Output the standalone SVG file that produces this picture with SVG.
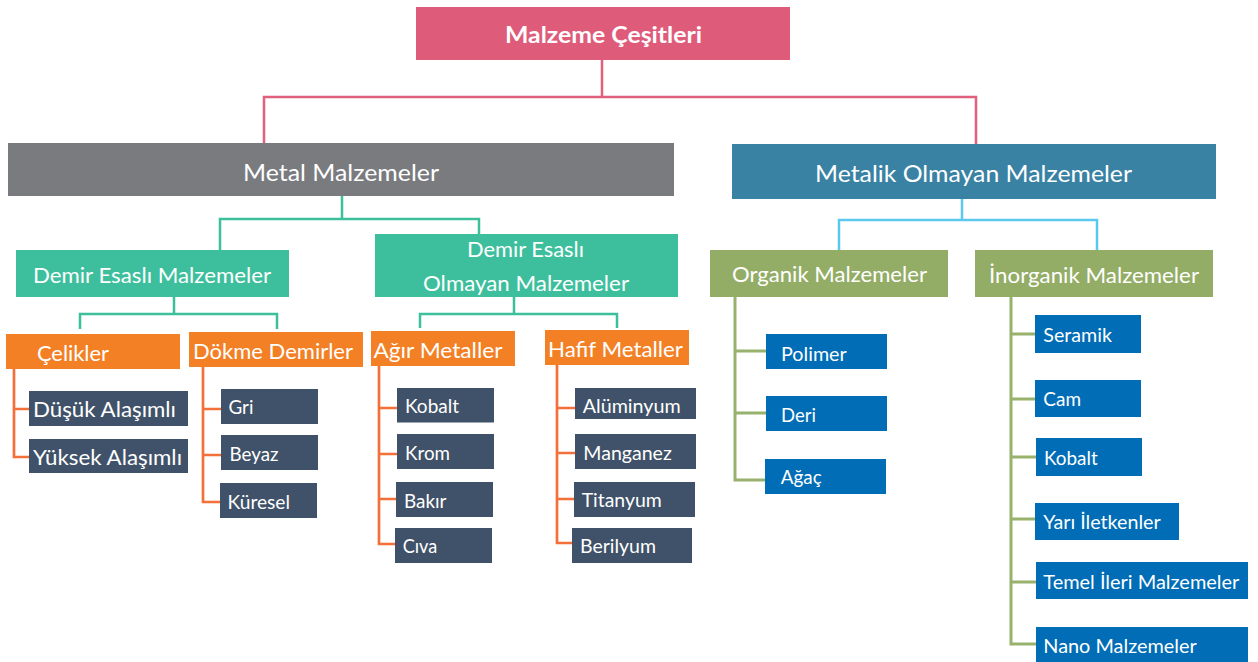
<svg xmlns="http://www.w3.org/2000/svg" width="1258" height="662" viewBox="0 0 1258 662">
<style>
text{font-family:Lato,"Open Sans","Noto Sans",sans-serif;fill:#ffffff;}
.t0{font-size:23.5px;font-weight:bold;}
.t1{font-size:23.5px;}
.t2{font-size:21px;}
.t3{font-size:22px;}
.t4{font-size:21px;}
.t5{font-size:19.5px;}
.pink{fill:#df5b7a;}
.gray{fill:#7a7b7f;}
.steel{fill:#3a82a3;}
.teal{fill:#3dbf9d;}
.olive{fill:#93ad66;}
.orange{fill:#f38025;}
.slate{fill:#3f5269;}
.blue{fill:#006db6;}
.c{fill:none;stroke-linejoin:miter;stroke-linecap:butt;}
.cp{stroke:#e0607e;stroke-width:2.5;}
.ct{stroke:#3cc09c;stroke-width:2.5;}
.co{stroke:#f3703a;stroke-width:2.7;}
.cb{stroke:#5bc8f0;stroke-width:2.5;}
.cg{stroke:#98b16c;stroke-width:3;}
</style>
<g id="connectors">
<path class="c cp" d="M602,60 V97 M264,143 V97 H976 V144"/>
<path class="c ct" d="M342,196 V219 M220,250 V219 H479 V234"/>
<path class="c ct" d="M174,297 V314 M80,329 V314 H277 V329"/>
<path class="c ct" d="M514,297 V314 M420,328 V314 H617 V328"/>
<path class="c co" d="M14,369 V457 H29 M14,409 H29"/>
<path class="c co" d="M203,367 V502 H220 M203,409 H221 M203,455 H221"/>
<path class="c co" d="M379,366 V544 H395 M379,408 H397 M379,454 H397 M379,499 H396"/>
<path class="c co" d="M557,365 V543 H572 M557,408 H575 M557,453 H575 M557,499 H574"/>
<path class="c cb" d="M962,199 V220 M839,250 V220 H1097 V250"/>
<path class="c cg" d="M735,297 V480 H765 M735,351 H766 M735,413 H766"/>
<path class="c cg" d="M1011,297 V644 H1036 M1011,334 H1035 M1011,399 H1035 M1011,457 H1036 M1011,519 H1035 M1011,582 H1036"/>
</g>
<g id="n-title"><rect class="pink" x="416" y="7" width="374" height="53"/><text class="t0" x="505" y="43" textLength="197" lengthAdjust="spacingAndGlyphs">Malzeme Çeşitleri</text></g>
<g id="n-metal"><rect class="gray" x="8" y="143" width="666" height="53"/><text class="t1" x="243" y="181" textLength="196" lengthAdjust="spacingAndGlyphs">Metal Malzemeler</text></g>
<g id="n-metalik"><rect class="steel" x="732" y="144" width="484" height="55"/><text class="t1" x="815" y="182" textLength="317" lengthAdjust="spacingAndGlyphs">Metalik Olmayan Malzemeler</text></g>
<g id="n-demir"><rect class="teal" x="16" y="250" width="273" height="47"/><text class="t2" x="33" y="283" textLength="238" lengthAdjust="spacingAndGlyphs">Demir Esaslı Malzemeler</text></g>
<g id="n-demirolmayan"><rect class="teal" x="375" y="234" width="303" height="63"/><text class="t2" x="467" y="257" textLength="117" lengthAdjust="spacingAndGlyphs">Demir Esaslı</text><text class="t2" x="423" y="290.5" textLength="206" lengthAdjust="spacingAndGlyphs">Olmayan Malzemeler</text></g>
<g id="n-organik"><rect class="olive" x="710" y="250" width="238" height="47"/><text class="t2" x="732" y="282" textLength="195" lengthAdjust="spacingAndGlyphs">Organik Malzemeler</text></g>
<g id="n-inorganik"><rect class="olive" x="975" y="250" width="238" height="47"/><text class="t2" x="989" y="282.5" textLength="210" lengthAdjust="spacingAndGlyphs">İnorganik Malzemeler</text></g>
<g id="n-celikler"><rect class="orange" x="6" y="334" width="174" height="35"/><text class="t3" x="37" y="360.5" textLength="72" lengthAdjust="spacingAndGlyphs">Çelikler</text></g>
<g id="n-dokme"><rect class="orange" x="189" y="332" width="174" height="35"/><text class="t3" x="193" y="359" textLength="160" lengthAdjust="spacingAndGlyphs">Dökme Demirler</text></g>
<g id="n-agir"><rect class="orange" x="371" y="331" width="144" height="35"/><text class="t3" x="373.5" y="357.5" textLength="129" lengthAdjust="spacingAndGlyphs">Ağır Metaller</text></g>
<g id="n-hafif"><rect class="orange" x="545" y="330" width="144" height="35"/><text class="t3" x="548" y="356.5" textLength="135" lengthAdjust="spacingAndGlyphs">Hafif Metaller</text></g>
<g id="n-dusuk"><rect class="slate" x="29" y="391" width="159" height="35"/><text class="t4" x="33" y="416.5" textLength="143" lengthAdjust="spacingAndGlyphs">Düşük Alaşımlı</text></g>
<g id="n-yuksek"><rect class="slate" x="29" y="439" width="159" height="34"/><text class="t4" x="33" y="465" textLength="149" lengthAdjust="spacingAndGlyphs">Yüksek Alaşımlı</text></g>
<g id="n-gri"><rect class="slate" x="221" y="389" width="97" height="35"/><text class="t5" x="228.5" y="414" textLength="25" lengthAdjust="spacingAndGlyphs">Gri</text></g>
<g id="n-beyaz"><rect class="slate" x="221" y="435" width="97" height="35"/><text class="t5" x="229.5" y="460.5" textLength="49" lengthAdjust="spacingAndGlyphs">Beyaz</text></g>
<g id="n-kuresel"><rect class="slate" x="220" y="483" width="97" height="35"/><text class="t5" x="227.5" y="509" textLength="62.5" lengthAdjust="spacingAndGlyphs">Küresel</text></g>
<g id="n-kobalt1"><rect class="slate" x="397" y="388" width="97" height="34.5"/><text class="t5" x="405" y="413.3" textLength="54" lengthAdjust="spacingAndGlyphs">Kobalt</text></g>
<g id="n-krom"><rect class="slate" x="397" y="434" width="97" height="35"/><text class="t5" x="405" y="460" textLength="45" lengthAdjust="spacingAndGlyphs">Krom</text></g>
<g id="n-bakir"><rect class="slate" x="396" y="482" width="97" height="35"/><text class="t5" x="404" y="508.3" textLength="42.5" lengthAdjust="spacingAndGlyphs">Bakır</text></g>
<g id="n-civa"><rect class="slate" x="395" y="528" width="97" height="35"/><text class="t5" x="402.7" y="553.3" textLength="34.5" lengthAdjust="spacingAndGlyphs">Cıva</text></g>
<g id="n-aluminyum"><rect class="slate" x="575" y="388" width="121" height="31"/><text class="t5" x="582.7" y="412.7" textLength="98" lengthAdjust="spacingAndGlyphs">Alüminyum</text></g>
<g id="n-manganez"><rect class="slate" x="575" y="434" width="121" height="35"/><text class="t5" x="583.3" y="460" textLength="88.5" lengthAdjust="spacingAndGlyphs">Manganez</text></g>
<g id="n-titanyum"><rect class="slate" x="574" y="482" width="121" height="35"/><text class="t5" x="581.7" y="507.3" textLength="80" lengthAdjust="spacingAndGlyphs">Titanyum</text></g>
<g id="n-berilyum"><rect class="slate" x="572" y="528" width="120" height="35"/><text class="t5" x="580" y="553.3" textLength="76" lengthAdjust="spacingAndGlyphs">Berilyum</text></g>
<g id="n-polimer"><rect class="blue" x="766" y="334" width="121" height="35"/><text class="t5" x="781" y="360.7" textLength="65.7" lengthAdjust="spacingAndGlyphs">Polimer</text></g>
<g id="n-deri"><rect class="blue" x="766" y="396" width="121" height="35"/><text class="t5" x="781" y="422.3" textLength="35" lengthAdjust="spacingAndGlyphs">Deri</text></g>
<g id="n-agac"><rect class="blue" x="765" y="459" width="121" height="35"/><text class="t5" x="780.7" y="484" textLength="41" lengthAdjust="spacingAndGlyphs">Ağaç</text></g>
<g id="n-seramik"><rect class="blue" x="1035" y="315" width="106" height="38"/><text class="t5" x="1043.3" y="342" textLength="68.7" lengthAdjust="spacingAndGlyphs">Seramik</text></g>
<g id="n-cam"><rect class="blue" x="1035" y="380" width="106" height="37"/><text class="t5" x="1043.3" y="406" textLength="37.7" lengthAdjust="spacingAndGlyphs">Cam</text></g>
<g id="n-kobalt2"><rect class="blue" x="1036" y="438" width="106" height="38"/><text class="t5" x="1044" y="465" textLength="53.7" lengthAdjust="spacingAndGlyphs">Kobalt</text></g>
<g id="n-yari"><rect class="blue" x="1035" y="503" width="144" height="37"/><text class="t5" x="1043.3" y="529" textLength="117.4" lengthAdjust="spacingAndGlyphs">Yarı İletkenler</text></g>
<g id="n-temel"><rect class="blue" x="1036" y="562" width="212" height="37"/><text class="t5" x="1043.3" y="589.3" textLength="196" lengthAdjust="spacingAndGlyphs">Temel İleri Malzemeler</text></g>
<g id="n-nano"><rect class="blue" x="1036" y="627" width="212" height="35"/><text class="t5" x="1043.3" y="652.7" textLength="153.4" lengthAdjust="spacingAndGlyphs">Nano Malzemeler</text></g>
</svg>
